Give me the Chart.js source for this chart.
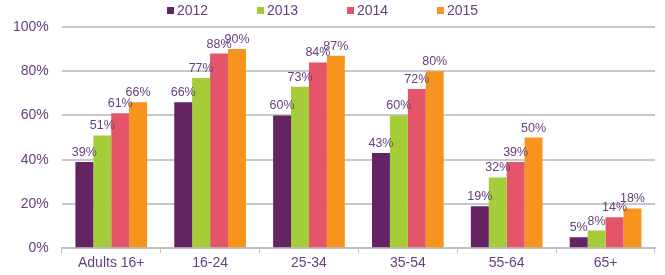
<!DOCTYPE html>
<html><head><meta charset="utf-8">
<script src="https://cdn.jsdelivr.net/npm/chart.js@4"></script>
<style>html,body{margin:0;padding:0;background:#fff}#w{width:665px;height:275px}</style>
</head><body><div id="w"><canvas id="c"></canvas></div>
<script>
const categories = ["Adults 16+", "16-24", "25-34", "35-54", "55-64", "65+"];
const s2012 = [39, 66, 60, 43, 19, 5];
const s2013 = [51, 77, 73, 60, 32, 8];
const s2014 = [61, 88, 84, 72, 39, 14];
const s2015 = [66, 90, 87, 80, 50, 18];
const seriesNames = ["2012", "2013", "2014", "2015"];
const yTicks = [0, 20, 40, 60, 80, 100];
const colors = ["#642463", "#A5CD39", "#E5556A", "#F7941D"];
const textColor = "#653F7A";
const FONT = '"Liberation Sans", Arial, sans-serif';

const labelPlugin = {
  id: 'vlabels',
  afterDatasetsDraw(chart) {
    const ctx = chart.ctx;
    ctx.save();
    ctx.font = '12.5px ' + FONT;
    ctx.fillStyle = textColor;
    ctx.textAlign = 'center';
    ctx.textBaseline = 'alphabetic';
    chart.data.datasets.forEach((ds, i) => {
      chart.getDatasetMeta(i).data.forEach((bar, j) => {
        ctx.fillText(ds.data[j] + '%', bar.x, bar.y - 6);
      });
    });
    ctx.restore();
  }
};

const legendPlugin = {
  id: 'customLegend',
  afterDraw(chart) {
    const ctx = chart.ctx;
    ctx.save();
    ctx.font = '14px ' + FONT;
    ctx.textBaseline = 'middle';
    ctx.textAlign = 'left';
    let x = 167;
    const y = 11;
    chart.data.datasets.forEach((ds) => {
      ctx.fillStyle = ds.backgroundColor;
      ctx.fillRect(x, y - 4, 7, 7);
      ctx.fillStyle = textColor;
      ctx.fillText(ds.label, x + 10, y);
      x += 90;
    });
    ctx.restore();
  }
};

new Chart(document.getElementById('c'), {
  type: 'bar',
  data: {
    labels: categories,
    datasets: [s2012, s2013, s2014, s2015].map((d, i) => ({
      label: seriesNames[i], data: d, backgroundColor: colors[i],
      barPercentage: 1.0, categoryPercentage: 0.725
    }))
  },
  options: {
    responsive: true, maintainAspectRatio: false, animation: false,
    layout: { padding: { left: 0, right: 10, top: 27, bottom: 1 } },
    plugins: {
      legend: { display: false },
      tooltip: { enabled: false }
    },
    scales: {
      x: {
        grid: { display: true, drawOnChartArea: false, offset: true, tickLength: 5, color: '#BFBFBF', lineWidth: 1 },
        border: { color: '#BFBFBF', width: 2 },
        ticks: { color: textColor, font: { family: FONT, size: 14 }, padding: 2 }
      },
      y: {
        min: 0, max: 100,
        afterBuildTicks(axis) { axis.ticks = yTicks.map(v => ({ value: v })); },
        grid: { color: '#C8C8C8', lineWidth: 2, drawTicks: false },
        border: { display: false },
        ticks: { color: textColor, padding: 13, callback: v => v + '%',
          font: { family: FONT, size: 14 } }
      }
    }
  },
  plugins: [labelPlugin, legendPlugin]
});
</script></body></html>
